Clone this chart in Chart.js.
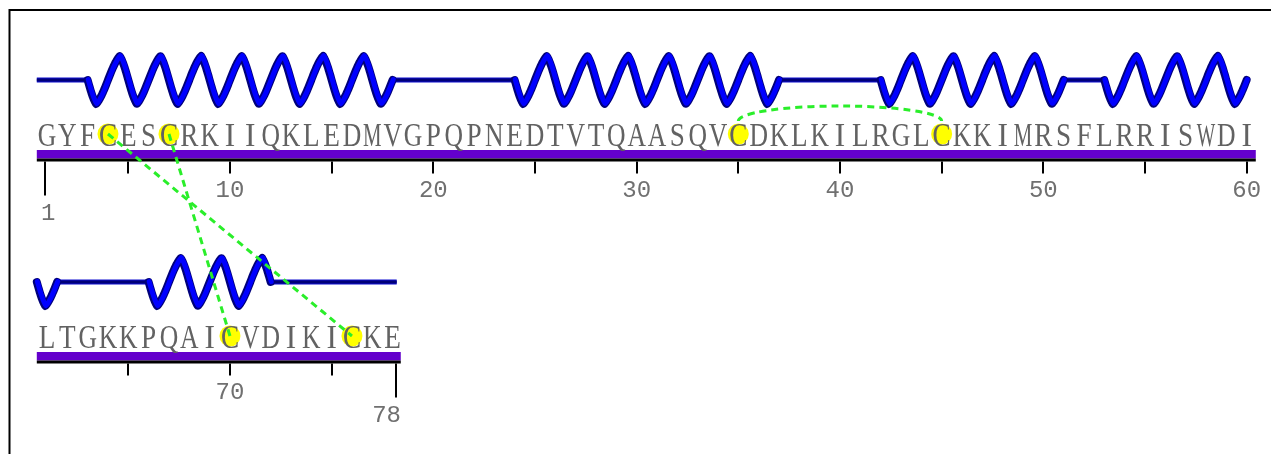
<!DOCTYPE html>
<html>
<head>
<meta charset="utf-8">
<script src="https://cdn.jsdelivr.net/npm/chart.js@4.4.1/dist/chart.umd.min.js"></script>
<style>
html,body{margin:0;padding:0;background:#fff;overflow:hidden}
#wrap{position:relative;width:1271px;height:454px}
</style>
</head>
<body>
<div id="wrap"><canvas id="c" width="1271" height="454"></canvas></div>
<script>
// ---------------- data ----------------
const sequence = "GYFCESCRKIIQKLEDMVGPQPNEDTVTQAASQVCDKLKILRGLCKKIMRSFLRRISWDILTGKKPQAICVDIKICKE";
const helixStarts = [3, 24, 42, 53, 66];
const helixEnds   = [18, 37, 51, 61.5, 72];
const cysteines   = [4, 7, 35, 45, 70, 76];
const bondFrom    = [4, 7, 35];
const bondTo      = [76, 70, 45];
const majorTicks  = [10, 20, 30, 40, 50, 60, 70];
const minorTicks  = [5, 15, 25, 35, 45, 55, 65, 75];
const endTicks    = [1, 78];
const endTickLabels = ["1", "78"];
const majorTickLabels = ["10", "20", "30", "40", "50", "60", "70"];

// ---------------- layout ----------------
const rows = [
  { first: 1,  last: 60, lineFrom: 0.5,  lineTo: 60,   barTo: 60.45, dy: 0 },
  { first: 61, last: 78, lineFrom: 60.5, lineTo: 78.2, barTo: 78.4,  dy: 202 }
];
const L = { coilY: 80, amp: 24, letterBase: 145.5, circleY: 134, barTop: 150, barBot: 158.5, blackBot: 161.5,
            tickTop: 161.5, shortEnd: 173.5, longEnd: 195.5, labelBase: 197, endLabelBase: 220, arcY: 121, arcRy: 15 };

function rowIndex(res) { return res <= rows[0].last + 0.5 ? 0 : 1; }
function xv(res, r) { const row = rows[r === undefined ? rowIndex(res) : r]; return res - row.first + 1; }

const cysPoints = cysteines.map(res => ({ x: xv(res), y: L.circleY + rows[rowIndex(res)].dy }));

function X(chart, res, r) { return chart.scales.x.getPixelForValue(xv(res, r)); }
function Y(chart, v) { return chart.scales.y.getPixelForValue(v); }

function waveOffset(t, p, amp) {
  const a = 0.58 * p;
  const q = (p - a) / 2;
  let s = ((t - q) % p + p) % p;
  let c;
  if (s < a) c = Math.cos(Math.PI * s / a);
  else c = -Math.cos(Math.PI * (s - a) / (p - a));
  c = Math.max(-1, Math.min(1, c));
  const tri = (2 / Math.PI) * Math.asin(c);
  return amp * (0.45 * c + 0.55 * tri);
}

const diagram = {
  id: 'diagram',
  beforeDatasetsDraw(chart) {
    const ctx = chart.ctx;
    const sx = chart.scales.x;
    const pxRes = sx.getPixelForValue(2) - sx.getPixelForValue(1);
    ctx.save();
    ctx.strokeStyle = '#000'; ctx.lineWidth = 2;
    ctx.beginPath(); ctx.moveTo(9.5, 460); ctx.lineTo(9.5, 10); ctx.lineTo(1280, 10); ctx.stroke();

    rows.forEach((row, r) => {
      const cy = Y(chart, L.coilY + row.dy);
      const x0 = X(chart, row.lineFrom, r), x1 = X(chart, row.lineTo, r);
      ctx.lineCap = 'butt';
      ctx.strokeStyle = '#1010d0'; ctx.lineWidth = 5;
      ctx.beginPath(); ctx.moveTo(x0, cy); ctx.lineTo(x1, cy); ctx.stroke();
      ctx.strokeStyle = '#000078'; ctx.lineWidth = 3;
      ctx.beginPath(); ctx.moveTo(x0, cy); ctx.lineTo(x1, cy); ctx.stroke();
      helixStarts.forEach((hs, i) => {
        const a = Math.max(hs, row.lineFrom), b = Math.min(helixEnds[i], row.lineTo);
        if (b <= a) return;
        const xa = X(chart, a, r), xb = X(chart, b, r);
        const p = 2 * pxRes;
        const pts = [];
        for (let x = xa; x <= xb + 0.01; x += 0.5) pts.push([x, cy + waveOffset(x - xa, p, L.amp)]);
        pts.push([xb, cy + waveOffset(xb - xa, p, L.amp)]);
        ctx.strokeStyle = '#fff'; ctx.lineWidth = 6;
        ctx.beginPath(); ctx.moveTo(xa + 1, cy); ctx.lineTo(xb - 1, cy); ctx.stroke();
        ctx.lineJoin = 'round'; ctx.lineCap = 'round';
        ctx.strokeStyle = '#00007a'; ctx.lineWidth = 8;
        ctx.beginPath(); pts.forEach((pt, k) => k ? ctx.lineTo(pt[0], pt[1]) : ctx.moveTo(pt[0], pt[1])); ctx.stroke();
        ctx.strokeStyle = '#0000ff'; ctx.lineWidth = 5;
        ctx.beginPath(); pts.forEach((pt, k) => k ? ctx.lineTo(pt[0] + 0.6, pt[1] - 0.4) : ctx.moveTo(pt[0] + 0.6, pt[1] - 0.4)); ctx.stroke();
        ctx.lineCap = 'butt';
      });
      const bx0 = X(chart, row.first - 0.5, r), bx1 = X(chart, row.barTo, r);
      ctx.fillStyle = '#6400cc';
      ctx.fillRect(bx0, Y(chart, L.barTop + row.dy), bx1 - bx0, L.barBot - L.barTop);
      ctx.fillStyle = '#000';
      ctx.fillRect(bx0, Y(chart, L.barBot + row.dy), bx1 - bx0, L.blackBot - L.barBot);
    });

    ctx.strokeStyle = '#000'; ctx.lineWidth = 2;
    const drawTick = (x, y0, y1) => { ctx.beginPath(); ctx.moveTo(x, y0); ctx.lineTo(x, y1); ctx.stroke(); };
    ctx.font = '24px "Liberation Mono", "DejaVu Sans Mono", monospace';
    ctx.fillStyle = '#707070'; ctx.textBaseline = 'alphabetic';
    minorTicks.concat(majorTicks).forEach(res => {
      const r = rowIndex(res), dy = rows[r].dy;
      drawTick(Math.round(X(chart, res, r)), Y(chart, L.tickTop + dy), Y(chart, L.shortEnd + dy));
    });
    majorTicks.forEach((res, i) => {
      const r = rowIndex(res), dy = rows[r].dy;
      ctx.textAlign = 'center';
      ctx.fillText(majorTickLabels[i], X(chart, res, r), Y(chart, L.labelBase + dy));
    });
    endTicks.forEach((res, i) => {
      const r = rowIndex(res), dy = rows[r].dy;
      const nudge = i === 0 ? -2 : 3;
      const x = Math.round(X(chart, res, r)) + nudge;
      drawTick(x, Y(chart, L.tickTop + dy), Y(chart, L.longEnd + dy));
      ctx.textAlign = i === 0 ? 'left' : 'right';
      ctx.fillText(endTickLabels[i], i === 0 ? x - 4 : x + 5, Y(chart, L.endLabelBase + dy));
    });
    ctx.restore();
  },
  afterDatasetsDraw(chart) {
    const ctx = chart.ctx;
    ctx.save();
    ctx.font = '34px "Liberation Serif", "DejaVu Serif", serif';
    ctx.fillStyle = '#626262'; ctx.textAlign = 'center'; ctx.textBaseline = 'alphabetic';
    for (let i = 0; i < sequence.length; i++) {
      const res = i + 1, r = rowIndex(res);
      const ch = sequence[i];
      const w = ctx.measureText(ch).width;
      const k = Math.min(w < 14 ? 0.92 : 0.8, 18.5 / w);
      ctx.save();
      ctx.translate(X(chart, res, r), Y(chart, L.letterBase + rows[r].dy));
      ctx.scale(k, 1);
      ctx.fillText(ch, 0, 0);
      ctx.restore();
    }
    ctx.strokeStyle = '#2aee2a'; ctx.lineWidth = 3; ctx.setLineDash([7, 5]);
    bondFrom.forEach((a, i) => {
      const b = bondTo[i];
      const ra = rowIndex(a), rb = rowIndex(b);
      const xa = X(chart, a, ra), xb = X(chart, b, rb);
      if (ra === rb) {
        const cx = (xa + xb) / 2, rx = Math.abs(xb - xa) / 2;
        ctx.beginPath();
        ctx.ellipse(cx, Y(chart, L.arcY + rows[ra].dy), rx, L.arcRy, 0, Math.PI, 2 * Math.PI);
        ctx.stroke();
      } else {
        ctx.beginPath();
        ctx.moveTo(xa, Y(chart, L.circleY + rows[ra].dy));
        ctx.lineTo(xb, Y(chart, L.circleY + rows[rb].dy));
        ctx.stroke();
      }
    });
    ctx.restore();
  }
};

new Chart(document.getElementById('c'), {
  type: 'scatter',
  data: { datasets: [{ label: 'Cys', data: cysPoints, pointRadius: 10.5, pointHoverRadius: 10.5,
                       backgroundColor: '#ffff00', borderWidth: 0, pointBorderWidth: 0, clip: false }] },
  options: {
    responsive: false, animation: false, events: [],
    layout: { autoPadding: false, padding: { left: 36.8, right: 14.2, top: 0, bottom: 0 } },
    plugins: { legend: { display: false }, tooltip: { enabled: false } },
    scales: {
      x: { type: 'linear', min: 0.5, max: 60.5, display: false },
      y: { type: 'linear', min: 0, max: 454, reverse: true, display: false }
    }
  },
  plugins: [diagram]
});
</script>
</body>
</html>
